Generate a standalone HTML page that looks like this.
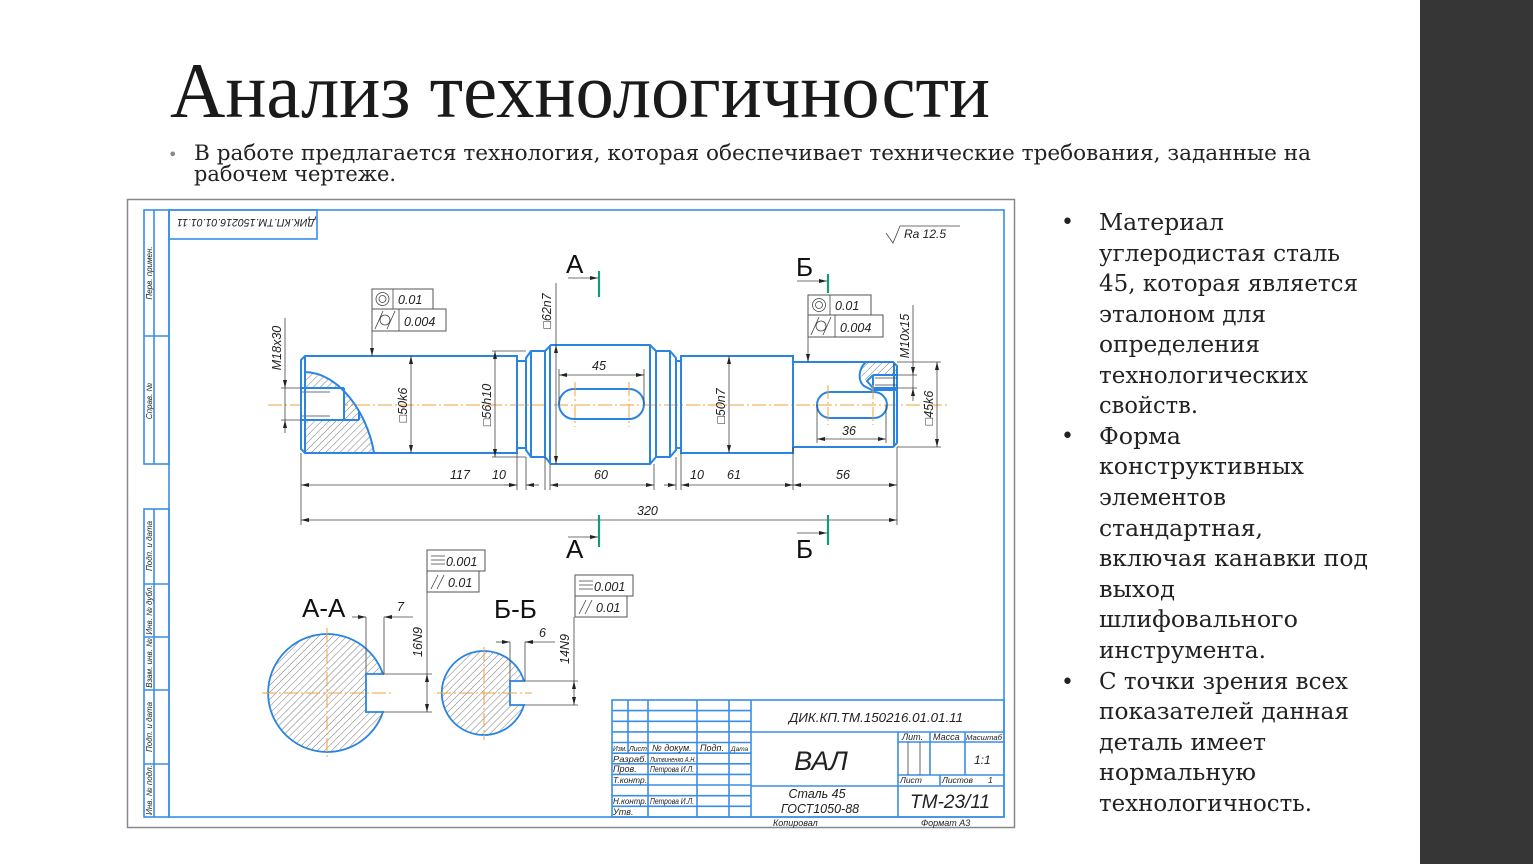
<!DOCTYPE html>
<html><head><meta charset="utf-8"><style>
html,body{margin:0;padding:0;background:#fff;}
svg{display:block;}
.s{font-family:"DejaVu Serif","Liberation Serif",serif;}
.d{font-family:"Liberation Sans","DejaVu Sans",sans-serif;font-style:italic;fill:#222;}
.b{stroke:#2a84e2;stroke-width:2;fill:none;}
.f{stroke:#3a8ee6;stroke-width:1.6;fill:none;}
.g{stroke:#444;stroke-width:0.8;fill:none;}
.gb{stroke:#555;stroke-width:1;fill:#fff;}
.o{stroke:#f0a040;stroke-width:1;stroke-dasharray:14 3 2 3;fill:none;}
.t{stroke:#159a80;stroke-width:2.2;}
</style></head><body>
<svg width="1533" height="864" viewBox="0 0 1533 864">
<defs>
<marker id="ar" viewBox="0 0 8 4" refX="8" refY="2" markerWidth="8" markerHeight="4" markerUnits="userSpaceOnUse" orient="auto-start-reverse"><path d="M0,0L8,2L0,4z" fill="#222"/></marker>
<pattern id="h" width="5" height="5" patternUnits="userSpaceOnUse" patternTransform="rotate(45)"><line x1="0" y1="0" x2="0" y2="5" stroke="#555" stroke-width="0.8"/></pattern>
</defs>
<rect x="0" y="0" width="1533" height="864" fill="#fff"/>
<rect x="1420" y="0" width="113" height="864" fill="#363636"/>

<!-- Title -->
<text x="170" y="117" font-family="Liberation Serif, DejaVu Serif, serif" font-size="78" fill="#1a1a1a" textLength="820" lengthAdjust="spacingAndGlyphs">Анализ технологичности</text>
<text class="s" x="168" y="160" font-size="16" fill="#888">•</text>
<text class="s" x="194" y="160" font-size="21.5" fill="#222" textLength="1117" lengthAdjust="spacingAndGlyphs">В работе предлагается технология, которая обеспечивает технические требования, заданные на</text>
<text class="s" x="194" y="181" font-size="21.5" fill="#222" textLength="202" lengthAdjust="spacingAndGlyphs">рабочем чертеже.</text>

<!-- Right column -->
<g class="s" font-size="23.5" fill="#222">
<text x="1061" y="229" font-size="22">•</text>
<text x="1061" y="443" font-size="22">•</text>
<text x="1061" y="689" font-size="22">•</text>
<text x="1099" y="230" textLength="125" lengthAdjust="spacingAndGlyphs">Материал</text>
<text x="1099" y="261" textLength="241" lengthAdjust="spacingAndGlyphs">углеродистая сталь</text>
<text x="1099" y="291" textLength="259" lengthAdjust="spacingAndGlyphs">45, которая является</text>
<text x="1099" y="322" textLength="167" lengthAdjust="spacingAndGlyphs">эталоном для</text>
<text x="1099" y="352" textLength="161" lengthAdjust="spacingAndGlyphs">определения</text>
<text x="1099" y="383" textLength="209" lengthAdjust="spacingAndGlyphs">технологических</text>
<text x="1099" y="413" textLength="99" lengthAdjust="spacingAndGlyphs">свойств.</text>
<text x="1099" y="444" textLength="82" lengthAdjust="spacingAndGlyphs">Форма</text>
<text x="1099" y="474" textLength="205" lengthAdjust="spacingAndGlyphs">конструктивных</text>
<text x="1099" y="505" textLength="127" lengthAdjust="spacingAndGlyphs">элементов</text>
<text x="1099" y="536" textLength="164" lengthAdjust="spacingAndGlyphs">стандартная,</text>
<text x="1099" y="566" textLength="269" lengthAdjust="spacingAndGlyphs">включая канавки под</text>
<text x="1099" y="597" textLength="76" lengthAdjust="spacingAndGlyphs">выход</text>
<text x="1099" y="627" textLength="199" lengthAdjust="spacingAndGlyphs">шлифовального</text>
<text x="1099" y="658" textLength="167" lengthAdjust="spacingAndGlyphs">инструмента.</text>
<text x="1099" y="689" textLength="249" lengthAdjust="spacingAndGlyphs">С точки зрения всех</text>
<text x="1099" y="719" textLength="250" lengthAdjust="spacingAndGlyphs">показателей данная</text>
<text x="1099" y="750" textLength="167" lengthAdjust="spacingAndGlyphs">деталь имеет</text>
<text x="1099" y="780" textLength="157" lengthAdjust="spacingAndGlyphs">нормальную</text>
<text x="1099" y="811" textLength="213" lengthAdjust="spacingAndGlyphs">технологичность.</text>
</g>

<!-- Drawing sheet -->
<rect x="127.5" y="199.5" width="887" height="628" fill="#fff" stroke="#888" stroke-width="1.5"/>
<rect x="169" y="210" width="835" height="607" class="f"/>
<!-- left strip -->
<rect x="144" y="210" width="25" height="254" class="f"/>
<line x1="154" y1="210" x2="154" y2="464" class="f"/>
<line x1="144" y1="336" x2="169" y2="336" class="f"/>
<rect x="144" y="509" width="25" height="308" class="f"/>
<line x1="154" y1="509" x2="154" y2="817" class="f"/>
<line x1="144" y1="584" x2="169" y2="584" class="f"/>
<line x1="144" y1="637" x2="169" y2="637" class="f"/>
<line x1="144" y1="690" x2="169" y2="690" class="f"/>
<line x1="144" y1="764" x2="169" y2="764" class="f"/>
<g class="d" font-size="8" fill="#444" text-anchor="middle">
<text transform="translate(152,273) rotate(-90)">Перв. примен.</text>
<text transform="translate(152,401) rotate(-90)">Справ. №</text>
<text transform="translate(152,546) rotate(-90)">Подп. и дата</text>
<text transform="translate(152,610) rotate(-90)">Инв. № дубл.</text>
<text transform="translate(152,663) rotate(-90)">Взам. инв. №</text>
<text transform="translate(152,727) rotate(-90)">Подп. и дата</text>
<text transform="translate(152,790) rotate(-90)">Инв. № подл.</text>
</g>
<!-- top-left inverted box -->
<rect x="169" y="210" width="148" height="29" class="f"/>
<text class="d" font-size="11" transform="translate(315,219) rotate(180)" textLength="138" lengthAdjust="spacingAndGlyphs">ДИК.КП.ТМ.150216.01.01.11</text>

<!-- Ra -->
<path d="M886,233 L893,243 L900,226 L960,226" class="g" stroke-width="1"/>
<text class="d" x="904" y="238" font-size="12">Ra 12.5</text>

<!-- centerline -->
<line x1="268" y1="405" x2="948" y2="405" class="o"/>

<!-- left end hatch -->
<path d="M304,372 C340,372 368,415 374,453 L304,453 Z" fill="url(#h)"/>
<rect x="302" y="388" width="42" height="32" fill="#fff"/>
<path d="M304,372 C340,372 368,415 374,453" class="b" stroke-width="1.6"/>
<path d="M301,388 L344,388 M301,420 L359,420 M344,388 L344,420 M359,411 L359,420" class="b" stroke-width="1.4"/>
<path d="M301,392 L330,392 M301,416 L330,416" class="g"/>

<!-- shaft -->
<path d="M305,356 L517,356 L517,453 L305,453 L301,449 L301,360 Z" class="b"/>
<line x1="305" y1="356" x2="305" y2="453" class="b" stroke-width="1.2"/>
<path d="M517,361 L526,361 M517,448 L526,448" class="b"/>
<path d="M526,358 L531,351 L545,351 L545,457 L531,457 L526,450 Z" class="b"/>
<line x1="531" y1="351" x2="531" y2="457" class="b" stroke-width="1.2"/>
<path d="M545,351 L551,345 L650,345 L656,351 M545,457 L551,464 L650,464 L656,457" class="b"/>
<path d="M550,345 L550,464 M650,345 L650,464" class="b" stroke-width="1.4"/>
<path d="M656,351 L670,351 L676,358 L676,450 L670,457 L656,457 Z" class="b"/>
<line x1="670" y1="351" x2="670" y2="457" class="b" stroke-width="1.2"/>
<path d="M676,361 L681,361 M676,448 L681,448" class="b"/>
<rect x="681" y="356" width="112" height="97" class="b"/>
<path d="M793,362 L893,362 L897,366 L897,443 L893,447 L793,447" class="b"/>
<line x1="894" y1="362" x2="894" y2="447" class="b" stroke-width="1.2"/>
<!-- right end thread -->
<path d="M866,362 L893,362 L897,366 L897,375 L873,375 L867,381 L862,378 C859,372 861,366 866,362 Z" fill="url(#h)"/>
<path d="M866,362 C859,368 857,380 864,386 L872,390 L897,390" class="b" stroke-width="1.6"/>
<path d="M873,375 L897,375 M873,375 L867,381 L873,388 L897,388 M873,375 L873,388" class="b" stroke-width="1.4"/>
<path d="M875,378 L897,378 M875,385 L897,385" class="g"/>
<!-- keyways -->
<rect x="559" y="389" width="85" height="30" rx="15" class="b"/>
<rect x="817" y="392" width="70" height="26" rx="13" class="b"/>
<path d="M575,382 L575,427 M629,382 L629,427 M828,385 L828,425 M873,385 L873,425" class="o" stroke-dasharray="10 3 2 3"/>

<!-- dimensions -->
<g class="g">
<path d="M301,453 L301,525 M517,453 L517,490 M526,457 L526,490 M545,457 L545,490 M550,464 L550,490 M654,464 L654,490 M676,457 L676,490 M681,453 L681,490 M793,447 L793,490 M897,447 L897,525"/>
<line x1="301" y1="485" x2="517" y2="485" marker-start="url(#ar)" marker-end="url(#ar)"/>
<line x1="504" y1="485" x2="517" y2="485" marker-end="url(#ar)"/>
<line x1="539" y1="485" x2="526" y2="485" marker-end="url(#ar)"/>
<line x1="550" y1="485" x2="654" y2="485" marker-start="url(#ar)" marker-end="url(#ar)"/>
<line x1="664" y1="485" x2="676" y2="485" marker-end="url(#ar)"/>
<line x1="681" y1="485" x2="793" y2="485" marker-start="url(#ar)" marker-end="url(#ar)"/>
<line x1="793" y1="485" x2="897" y2="485" marker-start="url(#ar)" marker-end="url(#ar)"/>
<line x1="301" y1="520" x2="897" y2="520" marker-start="url(#ar)" marker-end="url(#ar)"/>
<!-- vertical dims -->
<line x1="411" y1="356" x2="411" y2="453" marker-start="url(#ar)" marker-end="url(#ar)"/>
<path d="M492,351 L526,351 M492,457 L526,457"/>
<line x1="495" y1="351" x2="495" y2="457" marker-start="url(#ar)" marker-end="url(#ar)"/>
<line x1="556" y1="283" x2="556" y2="345"/>
<line x1="556" y1="345" x2="556" y2="464" marker-start="url(#ar)" marker-end="url(#ar)"/>
<line x1="729" y1="356" x2="729" y2="453" marker-start="url(#ar)" marker-end="url(#ar)"/>
<path d="M897,362 L941,362 M897,447 L941,447"/>
<line x1="937" y1="362" x2="937" y2="447" marker-start="url(#ar)" marker-end="url(#ar)"/>
<path d="M897,375 L917,375 M897,388 L917,388 M913,305 L913,362"/>
<line x1="913" y1="362" x2="913" y2="375" marker-end="url(#ar)"/>
<line x1="913" y1="401" x2="913" y2="388" marker-end="url(#ar)"/>
<line x1="913" y1="375" x2="913" y2="388"/>
<path d="M281,388 L301,388 M281,420 L301,420 M285,318 L285,375"/>
<line x1="285" y1="375" x2="285" y2="388" marker-end="url(#ar)"/>
<line x1="285" y1="433" x2="285" y2="420" marker-end="url(#ar)"/>
<line x1="285" y1="388" x2="285" y2="420"/>
<!-- keyway dims -->
<path d="M559,369 L559,404 M644,369 L644,404 M817,405 L817,443 M886,405 L886,443"/>
<line x1="559" y1="375" x2="644" y2="375" marker-start="url(#ar)" marker-end="url(#ar)"/>
<line x1="817" y1="439" x2="886" y2="439" marker-start="url(#ar)" marker-end="url(#ar)"/>
</g>
<g class="d" font-size="12.5">
<text x="450" y="479">117</text>
<text x="492" y="479">10</text>
<text x="594" y="479">60</text>
<text x="690" y="479">10</text>
<text x="727" y="479">61</text>
<text x="836" y="479">56</text>
<text x="637" y="515">320</text>
<text x="592" y="370">45</text>
<text x="842" y="435">36</text>
<text transform="translate(407,405) rotate(-90)" text-anchor="middle">□50k6</text>
<text transform="translate(491,405) rotate(-90)" text-anchor="middle">□56h10</text>
<text transform="translate(551,311) rotate(-90)" text-anchor="middle">□62n7</text>
<text transform="translate(725,406) rotate(-90)" text-anchor="middle">□50n7</text>
<text transform="translate(933,408) rotate(-90)" text-anchor="middle">□45k6</text>
<text transform="translate(909,336) rotate(-90)" text-anchor="middle">M10x15</text>
<text transform="translate(281,348) rotate(-90)" text-anchor="middle">M18x30</text>
</g>

<!-- GDT left -->
<rect x="372" y="289" width="61" height="20" class="gb"/>
<line x1="393" y1="289" x2="393" y2="309" class="g"/>
<rect x="372" y="309" width="74" height="22" class="gb"/>
<line x1="399" y1="309" x2="399" y2="331" class="g"/>
<circle cx="382.5" cy="299" r="6.5" class="g"/><circle cx="382.5" cy="299" r="3.5" class="g"/>
<circle cx="385" cy="320" r="5" class="g"/><path d="M375,329 L383,311 M387,329 L395,311" class="g"/>
<line x1="372" y1="331" x2="372" y2="356" class="g" marker-end="url(#ar)"/>
<text class="d" x="398" y="304" font-size="12.5">0.01</text>
<text class="d" x="404" y="326" font-size="12.5">0.004</text>
<!-- GDT right -->
<rect x="808" y="295" width="63" height="20" class="gb"/>
<line x1="830" y1="295" x2="830" y2="315" class="g"/>
<rect x="808" y="315" width="75" height="22" class="gb"/>
<line x1="835" y1="315" x2="835" y2="337" class="g"/>
<circle cx="819" cy="305" r="6.5" class="g"/><circle cx="819" cy="305" r="3.5" class="g"/>
<circle cx="821" cy="326" r="5" class="g"/><path d="M811,335 L819,317 M823,335 L831,317" class="g"/>
<line x1="808" y1="337" x2="808" y2="362" class="g" marker-end="url(#ar)"/>
<text class="d" x="835" y="310" font-size="12.5">0.01</text>
<text class="d" x="840" y="332" font-size="12.5">0.004</text>

<!-- Section marks -->
<g font-family="Liberation Sans, DejaVu Sans, sans-serif" font-size="26" fill="#111">
<text x="566" y="273">А</text>
<text x="796" y="276">Б</text>
<text x="566" y="558">А</text>
<text x="796" y="558">Б</text>
<text x="302" y="617">А-А</text>
<text x="494" y="618">Б-Б</text>
</g>
<line x1="568" y1="278" x2="598" y2="278" class="g" marker-end="url(#ar)"/>
<line x1="599" y1="271" x2="599" y2="297" class="t"/>
<line x1="797" y1="281" x2="827" y2="281" class="g" marker-end="url(#ar)"/>
<line x1="828" y1="274" x2="828" y2="293" class="t"/>
<line x1="568" y1="537" x2="598" y2="537" class="g" marker-end="url(#ar)"/>
<line x1="599" y1="515" x2="599" y2="547" class="t"/>
<line x1="797" y1="533" x2="827" y2="533" class="g" marker-end="url(#ar)"/>
<line x1="828" y1="515" x2="828" y2="545" class="t"/>

<!-- Section A-A -->
<path d="M383,674 L366,674 L366,712 L383,712 A59,59 0 1 1 383,674 Z" fill="url(#h)" stroke="#2a84e2" stroke-width="1.8"/>
<path d="M262,693 L392,693 M327,628 L327,758" class="o"/>
<g class="g">
<path d="M383,674 L432,674 M383,712 L432,712 M366,617 L366,674 M384,617 L384,674 M427,592 L427,674"/>
<line x1="427" y1="674" x2="427" y2="712" marker-start="url(#ar)" marker-end="url(#ar)"/>
<line x1="352" y1="617" x2="366" y2="617" marker-end="url(#ar)"/>
<line x1="413" y1="617" x2="384" y2="617" marker-end="url(#ar)"/>
</g>
<text class="d" x="397" y="611" font-size="12.5">7</text>
<text class="d" font-size="12.5" transform="translate(422,642) rotate(-90)" text-anchor="middle">16N9</text>
<rect x="427" y="550" width="58" height="21" class="gb"/>
<rect x="427" y="571" width="52" height="21" class="gb"/>
<path d="M431,556 L445,556 M431,560 L445,560 M431,564 L445,564 M431,589 L438,575 M437,589 L444,575" class="g"/>
<text class="d" x="446" y="566" font-size="12.5">0.001</text>
<text class="d" x="448" y="587" font-size="12.5">0.01</text>

<!-- Section B-B -->
<path d="M524,681 L510,681 L510,705 L524,705 A42,42 0 1 1 524,681 Z" fill="url(#h)" stroke="#2a84e2" stroke-width="1.8"/>
<path d="M437,693 L532,693 M484,647 L484,740" class="o"/>
<g class="g">
<path d="M524,681 L578,681 M524,705 L578,705 M510,642 L510,681 M525,642 L525,681 M574,617 L574,681"/>
<line x1="574" y1="681" x2="574" y2="705" marker-start="url(#ar)" marker-end="url(#ar)"/>
<line x1="496" y1="642" x2="510" y2="642" marker-end="url(#ar)"/>
<line x1="555" y1="642" x2="525" y2="642" marker-end="url(#ar)"/>
</g>
<text class="d" x="539" y="637" font-size="12.5">6</text>
<text class="d" font-size="12.5" transform="translate(569,649) rotate(-90)" text-anchor="middle">14N9</text>
<rect x="575" y="575" width="58" height="21" class="gb"/>
<rect x="575" y="596" width="52" height="21" class="gb"/>
<path d="M579,581 L593,581 M579,585 L593,585 M579,589 L593,589 M579,614 L586,600 M585,614 L592,600" class="g"/>
<text class="d" x="594" y="591" font-size="12.5">0.001</text>
<text class="d" x="596" y="612" font-size="12.5">0.01</text>

<!-- Title block -->
<g class="f" stroke-width="1.3">
<rect x="612" y="700" width="392" height="117"/>
<path d="M612,710.6 L751,710.6 M612,721.3 L751,721.3 M612,731.9 L751,731.9 M612,742.5 L751,742.5 M612,753.2 L751,753.2 M612,763.8 L751,763.8 M612,774.4 L751,774.4 M612,785 L751,785 M612,795.7 L751,795.7 M612,806.3 L751,806.3"/>
<path d="M628,700 L628,753.2 M648,700 L648,817 M697,700 L697,817 M729,700 L729,817 M751,700 L751,817"/>
<path d="M751,732 L1004,732 M751,786 L1004,786 M898,732 L898,817 M898,742 L1004,742 M898,775 L1004,775 M930,732 L930,775 M965,732 L965,775 M940,775 L940,786"/>
</g>
<path d="M908,742 L908,775 M920,742 L920,775" class="g" stroke="#777"/>
<g class="d" fill="#222">
<text x="876" y="722" font-size="13" text-anchor="middle" textLength="174" lengthAdjust="spacingAndGlyphs">ДИК.КП.ТМ.150216.01.01.11</text>
<text x="821" y="770" font-size="27" text-anchor="middle">ВАЛ</text>
<text x="902" y="740" font-size="9">Лит.</text>
<text x="933" y="740" font-size="9">Масса</text>
<text x="966" y="740" font-size="7.5" textLength="36" lengthAdjust="spacingAndGlyphs">Масштаб</text>
<text x="974" y="764" font-size="12">1:1</text>
<text x="900" y="783" font-size="8.5">Лист</text>
<text x="942" y="783" font-size="8.5">Листов</text>
<text x="988" y="783" font-size="8.5">1</text>
<text x="817" y="798" font-size="12.5" text-anchor="middle">Сталь 45</text>
<text x="820" y="813" font-size="12.5" text-anchor="middle">ГОСТ1050-88</text>
<text x="950" y="808" font-size="19" text-anchor="middle">ТМ-23/11</text>
<text x="773" y="826" font-size="9">Копировал</text>
<text x="921" y="826" font-size="9">Формат  А3</text>
<text x="613" y="751" font-size="7" textLength="14" lengthAdjust="spacingAndGlyphs">Изм.</text>
<text x="629" y="751" font-size="7" textLength="18" lengthAdjust="spacingAndGlyphs">Лист</text>
<text x="652" y="751" font-size="9">№ докум.</text>
<text x="700" y="751" font-size="9">Подп.</text>
<text x="731" y="751" font-size="6.5">Дата</text>
<text x="613" y="762" font-size="8" textLength="34" lengthAdjust="spacingAndGlyphs">Разраб.</text>
<text x="650" y="762" font-size="7" textLength="46" lengthAdjust="spacingAndGlyphs">Литвиненко А.Н.</text>
<text x="613" y="772" font-size="9">Пров.</text>
<text x="650" y="772" font-size="8" textLength="44" lengthAdjust="spacingAndGlyphs">Петрова И.Л.</text>
<text x="613" y="783" font-size="8" textLength="34" lengthAdjust="spacingAndGlyphs">Т.контр.</text>
<text x="613" y="804" font-size="8" textLength="34" lengthAdjust="spacingAndGlyphs">Н.контр.</text>
<text x="650" y="804" font-size="8" textLength="44" lengthAdjust="spacingAndGlyphs">Петрова И.Л.</text>
<text x="613" y="815" font-size="9">Утв.</text>
</g>
</svg>
</body></html>
